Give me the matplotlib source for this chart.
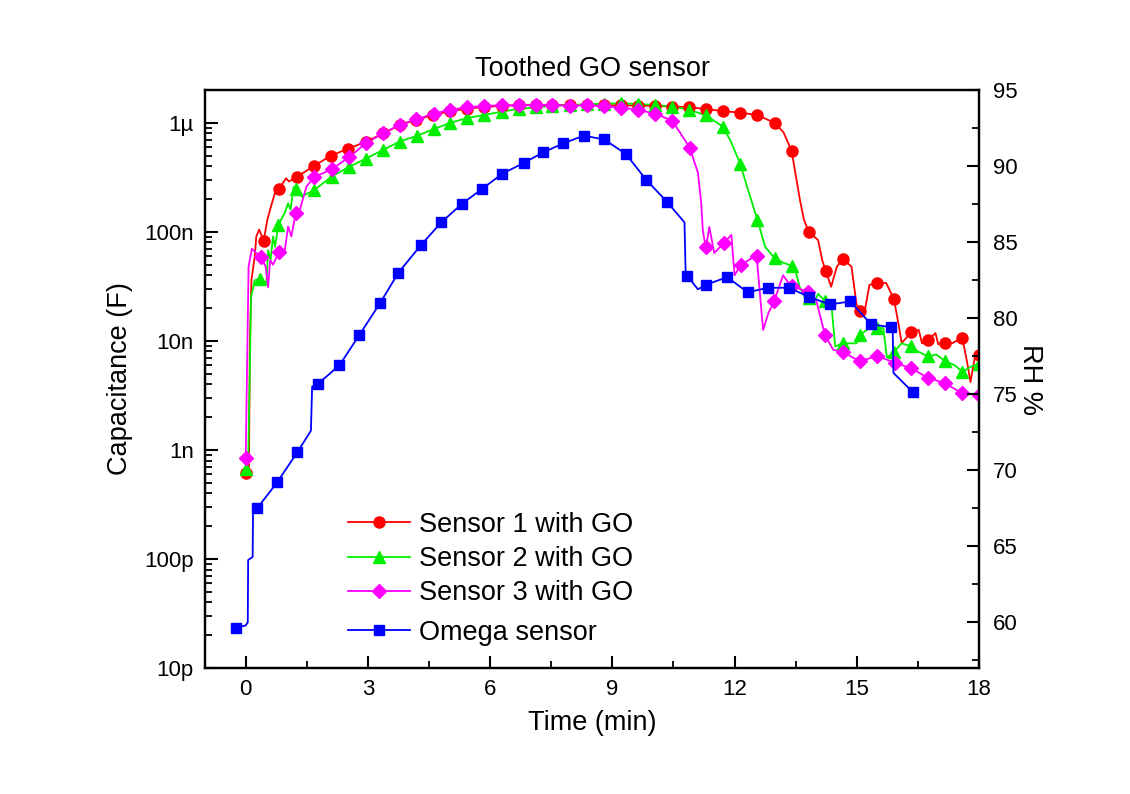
import numpy as np
import matplotlib
matplotlib.use("Agg")
import matplotlib.pyplot as plt
from matplotlib.ticker import FixedLocator, LogLocator, FuncFormatter, MultipleLocator, NullFormatter

plt.rcParams["font.family"] = ["Liberation Sans", "DejaVu Sans"]

# ---- Sensor 1 with GO (capacitance, nF) ----
S1_MARK_T = [0.0, 0.44, 0.82, 1.26, 1.68, 2.09, 2.5, 2.95, 3.37, 3.78, 4.19, 4.6, 5.02, 5.44,
             5.86, 6.28, 6.7, 7.12, 7.53, 7.95, 8.37, 8.79, 9.21, 9.63, 10.05, 10.47, 10.88,
             11.3, 11.72, 12.14, 12.56, 12.98, 13.4, 13.82, 14.24, 14.66, 15.07, 15.49, 15.91,
             16.33, 16.75, 17.17, 17.59, 18.0]
S1_MARK_C = [0.61, 83, 250, 320, 404, 500, 577, 670, 800, 950, 1070, 1180, 1280, 1350,
             1400, 1430, 1450, 1460, 1460, 1460, 1460, 1450, 1450, 1440, 1430, 1410, 1390,
             1340, 1280, 1240, 1180, 1000, 553, 100, 43.8, 56.5, 18.8, 34, 24.3,
             12.1, 10.2, 9.6, 10.7, 7.4]
S1_TRACE_T = [0.08, 0.1, 0.14, 0.22, 0.26, 0.33, 0.53, 0.62, 0.74, 0.99, 1.06,
              13.2, 13.6, 13.7, 14.05, 14.15, 14.37, 14.51, 14.87, 14.99, 15.2, 15.31, 15.72,
              16.02, 16.1, 16.2, 16.52, 16.6, 16.93, 17.0, 17.34, 17.71, 17.79, 17.9]
S1_TRACE_C = [0.7, 9, 36, 59, 91, 105, 129, 171, 243, 310, 290,
              820, 200, 130, 84, 55, 31.4, 48, 48, 22, 19.3, 32.6, 34,
              14.5, 9.6, 10.5, 12.6, 9.5, 11.8, 9.3, 9.5, 6.3, 4.2, 7.2]

# ---- Sensor 2 with GO (capacitance, nF) ----
S2_MARK_T = [0.0, 0.36, 0.8, 1.24, 1.68, 2.11, 2.54, 2.95, 3.37, 3.78, 4.2, 4.61, 5.02, 5.44,
             5.86, 6.28, 6.7, 7.12, 7.53, 7.95, 8.37, 8.79, 9.21, 9.63, 10.05, 10.47, 10.88,
             11.3, 11.72, 12.14, 12.56, 12.98, 13.4, 13.82, 14.23, 14.65, 15.07, 15.5, 15.91,
             16.33, 16.75, 17.17, 17.59, 18.0]
S2_MARK_C = [0.67, 37, 116, 245, 242, 322, 395, 470, 565, 674, 760, 875, 1000, 1110,
             1180, 1270, 1340, 1390, 1430, 1460, 1480, 1500, 1510, 1490, 1460, 1410, 1320,
             1170, 920, 418, 129, 57.6, 49, 25, 23, 9.5, 11.3, 13.1, 7.9,
             8.9, 7.2, 6.5, 5.2, 6.2]
S2_TRACE_T = [0.06, 0.1, 0.13, 0.22, 0.51, 0.55, 0.61, 0.67, 0.72, 0.96, 1.04, 1.1, 1.18, 1.37,
              11.92, 12.33, 12.75, 13.2, 13.5, 13.6, 13.75, 13.93, 14.05, 14.38, 14.47, 14.99,
              15.37, 15.65, 15.74, 16.1, 16.5, 16.95, 17.4, 17.8]
S2_TRACE_C = [0.8, 5, 25, 36, 34, 68, 55, 91, 73, 150, 183, 160, 260, 211,
              660, 243, 73, 52, 43, 31, 24, 21.6, 27, 20.7, 8.9, 9.5,
              13.6, 13.1, 7.0, 9.5, 8.0, 7.5, 6.0, 5.8]

# ---- Sensor 3 with GO (capacitance, nF) ----
S3_MARK_T = [0.0, 0.37, 0.82, 1.23, 1.68, 2.11, 2.54, 2.95, 3.37, 3.78, 4.19, 4.61, 5.02, 5.44,
             5.86, 6.28, 6.7, 7.12, 7.53, 7.95, 8.37, 8.79, 9.21, 9.63, 10.05, 10.47, 10.9,
             11.3, 11.74, 12.15, 12.54, 12.97, 13.4, 13.81, 14.22, 14.65, 15.08, 15.5, 15.93,
             16.34, 16.74, 17.16, 17.59, 18.0]
S3_MARK_C = [0.85, 59, 66, 150, 318, 376, 484, 652, 800, 960, 1080, 1210, 1320, 1390,
             1430, 1450, 1450, 1450, 1450, 1440, 1450, 1420, 1380, 1320, 1210, 1050, 590,
             73, 79, 50, 60.7, 23, 32, 28, 11.3, 7.9, 6.5, 7.3, 6.3,
             5.6, 4.6, 4.1, 3.3, 3.2]
S3_TRACE_T = [0.07, 0.15, 0.26, 0.49, 0.55, 0.6, 0.67, 0.96, 1.04, 1.12, 1.33, 1.49,
              11.1, 11.18, 11.22, 11.26, 11.38, 11.5, 11.92, 12.0, 12.7, 12.83, 13.19, 13.3,
              14.0, 14.42]
S3_TRACE_C = [48, 70, 64, 48, 31, 55, 50, 68, 112, 91, 160, 260,
              348, 186, 104, 84, 111, 64, 94, 40, 12.6, 18, 40, 35,
              23.8, 8.3]

# ---- Omega reference sensor (relative humidity, %) ----
OM_MARK_T = [-0.23, 0.28, 0.77, 1.27, 1.78, 2.3, 2.79, 3.3, 3.75, 4.3, 4.8, 5.3, 5.8, 6.3,
             6.82, 7.3, 7.8, 8.3, 8.8, 9.33, 9.83, 10.34, 10.83, 11.3, 11.82, 12.32, 12.82,
             13.33, 13.83, 14.34, 14.84, 15.35, 15.85, 16.37]
OM_MARK_RH = [59.65, 67.5, 69.2, 71.2, 75.7, 76.9, 78.9, 81.0, 83.0, 84.8, 86.3, 87.5, 88.5, 89.5,
              90.2, 90.9, 91.5, 92.0, 91.75, 90.8, 89.1, 87.65, 82.8, 82.2, 82.7, 81.7, 82.0,
              82.0, 81.4, 80.9, 81.1, 79.6, 79.4, 75.15]
OM_TRACE_T = [0.0, 0.05, 0.06, 0.17, 0.18, 1.6, 1.63, 10.77, 10.8, 11.1, 15.88, 15.9, 16.5]
OM_TRACE_RH = [59.8, 60.0, 64.1, 64.3, 67.5, 72.6, 75.5, 86.3, 82.8, 81.9, 79.3, 76.4, 74.8]

LABELS = ["Sensor 1 with GO", "Sensor 2 with GO", "Sensor 3 with GO", "Omega sensor"]
X_TICKS = [0, 3, 6, 9, 12, 15, 18]
C_TICK_LABELS = {-11: "10p", -10: "100p", -9: "1n", -8: "10n", -7: "100n", -6: "1\u00b5"}
RH_TICKS = [60, 65, 70, 75, 80, 85, 90, 95]

TEXT_SIZE = 19.5
TICK_SIZE = 16


def merged(mt, mv, tt, tv):
    t = np.concatenate([mt, tt])
    v = np.concatenate([mv, tv])
    order = np.argsort(t, kind="stable")
    return t[order], v[order]


fig = plt.figure(figsize=(11.3, 7.94), dpi=100)
ax = fig.add_axes([0.1814, 0.1587, 0.6850, 0.7279])
ax2 = ax.twinx()

styles = [("#ff0000", "o", 8.0), ("#00ee00", "^", 9.0), ("#ff00ff", "D", 7.5)]
series = [(S1_MARK_T, S1_MARK_C, S1_TRACE_T, S1_TRACE_C),
          (S2_MARK_T, S2_MARK_C, S2_TRACE_T, S2_TRACE_C),
          (S3_MARK_T, S3_MARK_C, S3_TRACE_T, S3_TRACE_C)]

handles = []
for (mt, mc, tt, tc), (col, mk, ms), lab in zip(series, styles, LABELS[:3]):
    mt, mc = np.array(mt), np.array(mc) * 1e-9
    t, c = merged(mt, mc, np.array(tt), np.array(tc) * 1e-9)
    ax.plot(t, c, color=col, lw=1.3, zorder=2)
    ax.plot(mt, mc, ls="none", marker=mk, ms=ms, color=col, mec=col, zorder=3)
    handles.append(plt.Line2D([], [], color=col, lw=1.3, marker=mk, ms=ms, mec=col))

omt, omr = np.array(OM_MARK_T), np.array(OM_MARK_RH)
t, r = merged(omt, omr, np.array(OM_TRACE_T), np.array(OM_TRACE_RH))
ax2.plot(t, r, color="#0000ff", lw=1.3, zorder=2)
ax2.plot(omt, omr, ls="none", marker="s", ms=7.5, color="#0000ff", zorder=3)
om_handle = plt.Line2D([], [], color="#0000ff", lw=1.3, marker="s", ms=7.5)

# capacitance axis
ax.set_yscale("log")
ax.set_ylim(1e-11, 2e-6)
ax.set_xlim(-1, 18)
ax.yaxis.set_major_locator(FixedLocator([10.0 ** e for e in C_TICK_LABELS]))
ax.yaxis.set_major_formatter(FuncFormatter(
    lambda v, p: C_TICK_LABELS.get(int(round(np.log10(v))), "")))
ax.yaxis.set_minor_locator(LogLocator(base=10, subs=np.arange(2, 10), numticks=20))
ax.yaxis.set_minor_formatter(NullFormatter())
ax.xaxis.set_major_locator(FixedLocator(X_TICKS))
ax.xaxis.set_minor_locator(MultipleLocator(1.5))

# humidity axis
ax2.set_ylim(57.0, 95.0)
ax2.yaxis.set_major_locator(FixedLocator(RH_TICKS))
ax2.yaxis.set_minor_locator(MultipleLocator(2.5))

for a in (ax, ax2):
    a.tick_params(which="major", direction="in", length=9, width=1.5, labelsize=TICK_SIZE)
    a.tick_params(which="minor", direction="in", length=5, width=1.3)
    for sp in a.spines.values():
        sp.set_linewidth(1.6)
ax.tick_params(axis="y", which="both", right=False, pad=8)
ax.tick_params(axis="x", which="both", top=False, pad=8)
ax2.tick_params(axis="y", which="both", left=False, pad=10)

ax.set_xlabel("Time (min)", fontsize=TEXT_SIZE, labelpad=7)
ax.set_ylabel("Capacitance (F)", fontsize=TEXT_SIZE, labelpad=8)
ax2.set_ylabel("RH %", fontsize=TEXT_SIZE, rotation=270, labelpad=18)
ax.set_title("Toothed GO sensor", fontsize=TEXT_SIZE, pad=10)

leg1 = ax2.legend(handles, LABELS[:3], loc="upper left", bbox_to_anchor=(0.185, 0.27),
                  frameon=False, fontsize=TEXT_SIZE, handlelength=2.3, handletextpad=0.3,
                  labelspacing=0.3, borderpad=0, borderaxespad=0)
ax2.add_artist(leg1)
ax2.legend([om_handle], LABELS[3:], loc="center left", bbox_to_anchor=(0.185, 0.061),
           frameon=False, fontsize=TEXT_SIZE, handlelength=2.3, handletextpad=0.3,
           borderpad=0, borderaxespad=0)

fig.savefig("out.png", dpi=100)
